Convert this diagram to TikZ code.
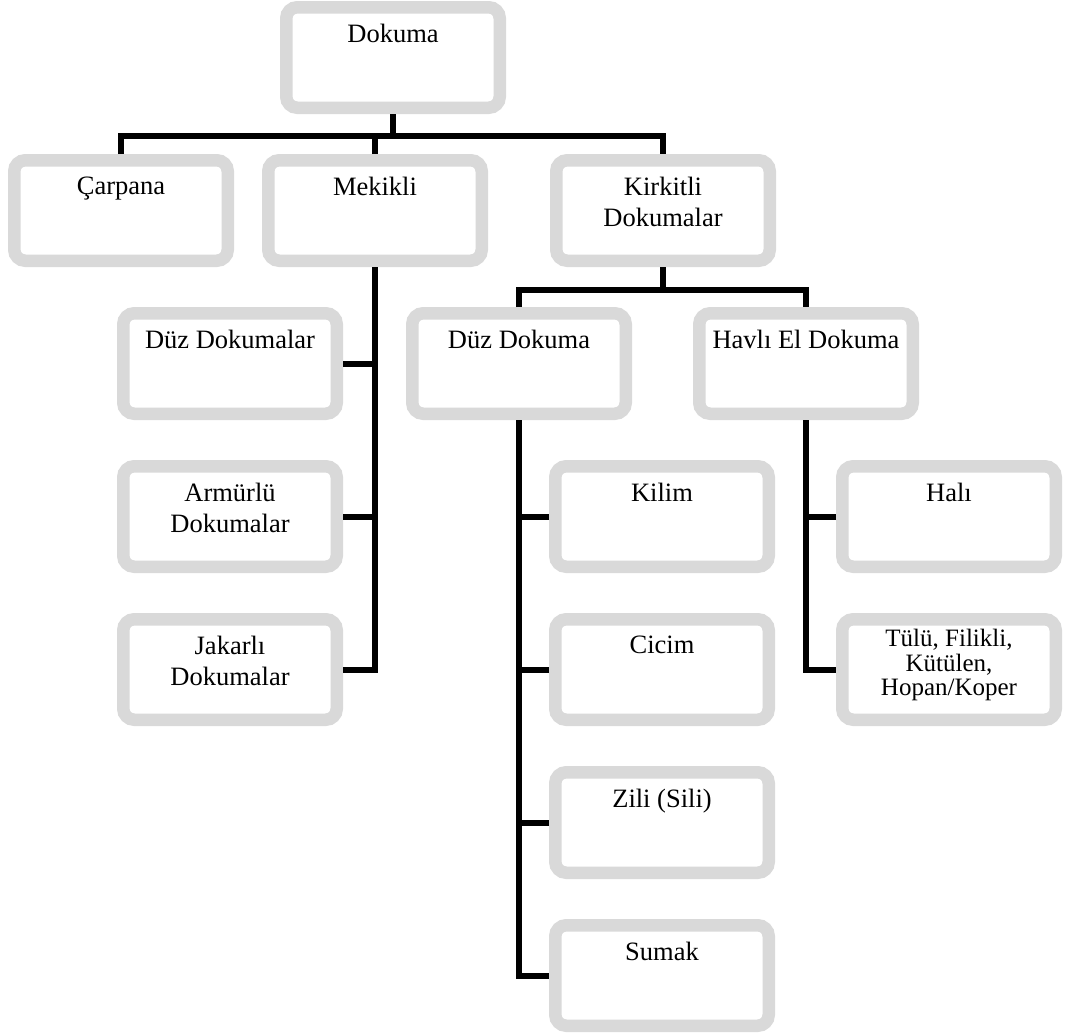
\documentclass[tikz,border=0pt]{standalone}
\usepackage{fontspec}
\setmainfont{Liberation Serif}
\usetikzlibrary{calc}
\definecolor{boxgray}{RGB}{217,217,217}
\begin{document}
\begin{tikzpicture}[x=1pt,y=-1pt,
  box/.style={draw=boxgray, line width=12.5pt, rounded corners=11pt, fill=white,
    minimum width=213.5pt, minimum height=100.5pt, inner sep=0pt},
  conn/.style={draw=black, line width=6pt, line join=miter},
  txt/.style={anchor=north, align=center, inner sep=0pt, font=\fontsize{26.5}{31}\selectfont},
  small/.style={anchor=north, align=center, inner sep=0pt, font=\fontsize{25}{24.5}\selectfont}]
\useasboundingbox (0,0) rectangle (1066,1034);
% boxes
\node[box] (dok) at (393,57.5) {};
\node[box] (car) at (121,210.5) {};
\node[box] (mek) at (375,210.5) {};
\node[box] (kir) at (663,210.5) {};
\node[box] (dzl) at (230,363.5) {};
\node[box] (arm) at (230,516.5) {};
\node[box] (jak) at (230,669.5) {};
\node[box] (dzd) at (519,363.5) {};
\node[box] (hav) at (806,363.5) {};
\node[box] (kil) at (662,516.5) {};
\node[box] (cic) at (662,669.5) {};
\node[box] (zil) at (662,822.5) {};
\node[box] (sum) at (662,975.5) {};
\node[box] (hal) at (949,516.5) {};
\node[box] (tul) at (949,669.5) {};
% texts
\node[txt] (dokT) at ($(dok.north)+(0,23)$) {Dokuma};
\node[txt] (carT) at ($(car.north)+(0,23)$) {Çarpana};
\node[txt] (mekT) at ($(mek.north)+(0,23)$) {Mekikli};
\node[txt] (kirT) at ($(kir.north)+(0,23)$) {Kirkitli\\Dokumalar};
\node[txt] (dzlT) at ($(dzl.north)+(0,23)$) {Düz Dokumalar};
\node[txt] (armT) at ($(arm.north)+(0,23)$) {Armürlü\\Dokumalar};
\node[txt] (jakT) at ($(jak.north)+(0,23)$) {Jakarlı\\Dokumalar};
\node[txt] (dzdT) at ($(dzd.north)+(0,23)$) {Düz Dokuma};
\node[txt] (havT) at ($(hav.north)+(0,23)$) {Havlı El Dokuma};
\node[txt] (kilT) at ($(kil.north)+(0,23)$) {Kilim};
\node[txt] (cicT) at ($(cic.north)+(0,23)$) {Cicim};
\node[txt] (zilT) at ($(zil.north)+(0,23)$) {Zili (Sili)};
\node[txt] (sumT) at ($(sum.north)+(0,23)$) {Sumak};
\node[txt] (halT) at ($(hal.north)+(0,23)$) {Halı};
\node[small] (tulT) at ($(tul.north)+(0,16)$) {Tülü, Filikli,\\Kütülen,\\Hopan/Koper};
% connectors
\coordinate (b1) at (0,136);
\coordinate (b2) at (0,290);
\draw[conn] (dok.south) -- (dok.south |- b1);
\draw[conn] (car.north) -- (car.north |- b1) -- (kir.north |- b1) -- (kir.north);
\draw[conn] (mek.north) -- (mek.north |- b1);
\draw[conn] (kir.south) -- (kir.south |- b2);
\draw[conn] (dzd.north) -- (dzd.north |- b2) -- (hav.north |- b2) -- (hav.north);
\draw[conn] (mek.south) |- (jak.east);
\draw[conn] (dzl.east) -- (dzl.east -| mek.south);
\draw[conn] (arm.east) -- (arm.east -| mek.south);
\draw[conn] (dzd.south) |- (sum.west);
\draw[conn] (kil.west) -- (kil.west -| dzd.south);
\draw[conn] (cic.west) -- (cic.west -| dzd.south);
\draw[conn] (zil.west) -- (zil.west -| dzd.south);
\draw[conn] (hav.south) |- (tul.west);
\draw[conn] (hal.west) -- (hal.west -| hav.south);
\end{tikzpicture}
\end{document}
